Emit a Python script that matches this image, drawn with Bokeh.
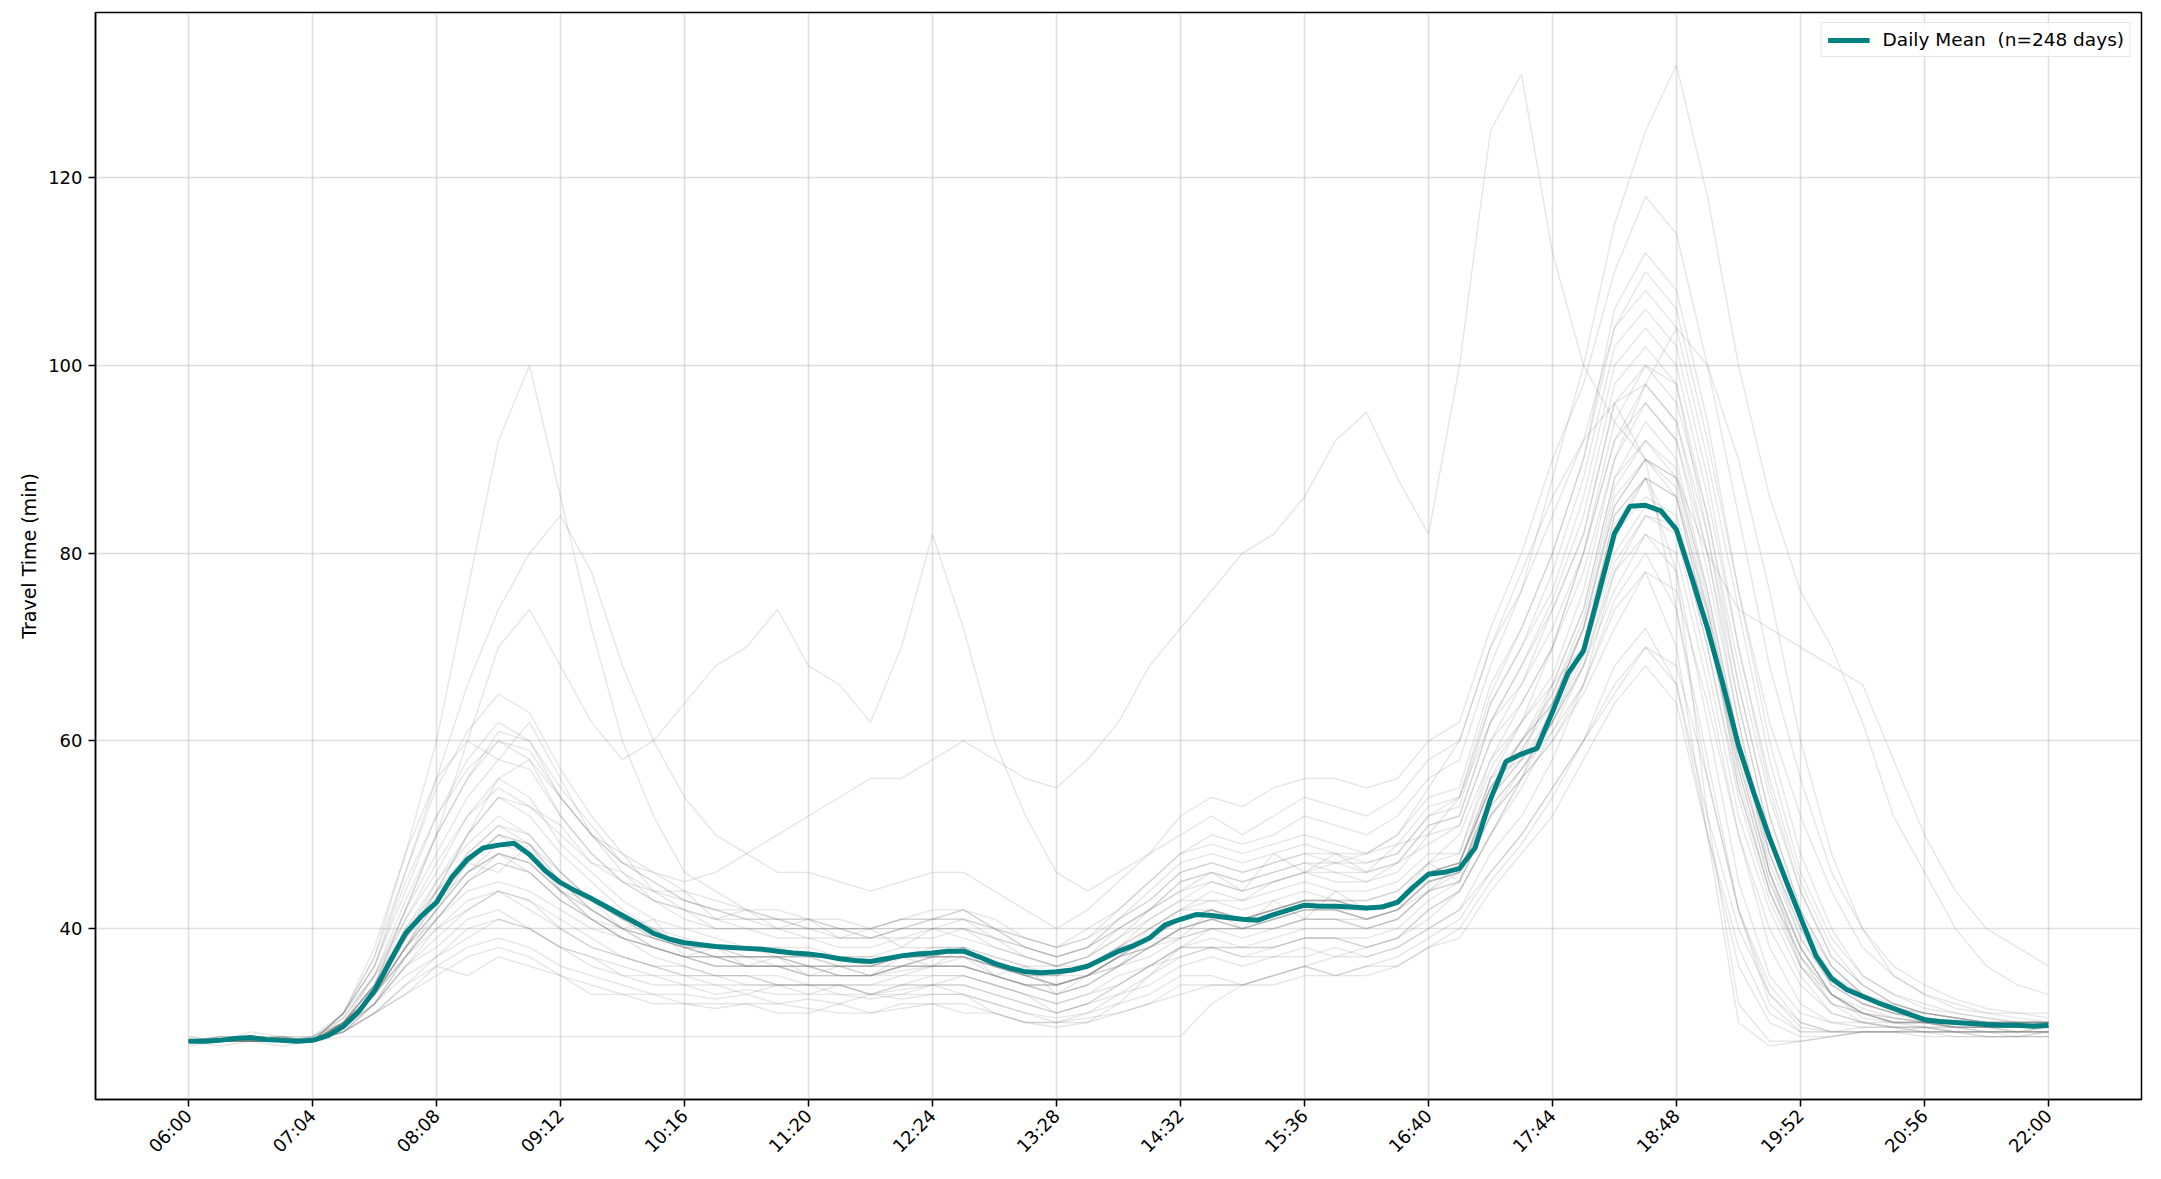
import math
from bokeh.plotting import figure
from bokeh.models import Range1d, FixedTicker
from bokeh.embed import file_html
from bokeh.resources import INLINE

# ---------------- data ----------------
tick_minutes = [0, 64, 128, 192, 256, 320, 384, 448, 512, 576, 640, 704, 768, 832, 896, 960]
tick_labels = ["06:00", "07:04", "08:08", "09:12", "10:16", "11:20", "12:24", "13:28",
               "14:32", "15:36", "16:40", "17:44", "18:48", "19:52", "20:56", "22:00"]
y_ticks = [40, 60, 80, 100, 120]

# mean travel time, sampled every 8 minutes from 06:00
mean_minutes = list(range(0, 961, 8))
mean_travel = [
    28.0, 28.0, 28.1, 28.3, 28.4, 28.2, 28.1, 28.0,
    28.1, 28.6, 29.6, 31.2, 33.4, 36.5, 39.5, 41.3,
    42.8, 45.5, 47.4, 48.6, 48.9, 49.1, 47.9, 46.2,
    44.9, 44.0, 43.2, 42.3, 41.4, 40.5, 39.5, 38.9,
    38.5, 38.3, 38.1, 38.0, 37.9, 37.8, 37.6, 37.4,
    37.3, 37.1, 36.8, 36.6, 36.5, 36.8, 37.1, 37.3,
    37.4, 37.6, 37.6, 37.0, 36.3, 35.8, 35.4, 35.3,
    35.4, 35.6, 36.0, 36.8, 37.6, 38.2, 39.0, 40.4,
    41.0, 41.5, 41.4, 41.2, 41.0, 40.9, 41.5, 42.0,
    42.5, 42.4, 42.4, 42.3, 42.2, 42.3, 42.8, 44.4,
    45.8, 46.0, 46.4, 48.6, 53.8, 57.8, 58.6, 59.2,
    63.1, 67.2, 69.6, 75.8, 82.1, 85.0, 85.1, 84.5,
    82.5, 77.3, 72.0, 66.0, 59.5, 54.4, 49.7, 45.4,
    41.2, 37.1, 34.7, 33.5, 32.8, 32.1, 31.5, 30.9,
    30.3, 30.1, 30.0, 29.9, 29.8, 29.7, 29.7, 29.6,
    29.7,
]

# individual days, sampled every 16 minutes from 06:00
day_minutes = list(range(0, 961, 16))
day_01 = [28, 28, 28.5, 28, 28, 29, 31, 34, 36, 38, 39, 38, 36, 35, 34, 33, 33, 32.5, 33, 32, 32.5, 32, 33, 32.5, 33, 33, 32, 31, 30.5, 31, 32, 33, 35, 35, 34, 35, 36, 35, 36, 37, 39, 41, 46, 50, 55, 60, 68, 72, 66, 50, 38, 31, 29, 29, 29.5, 29.5, 29, 29, 29, 28.5, 29]
day_02 = [28.5, 28, 28, 28.5, 28, 29, 32, 35, 37, 40, 41, 40, 38, 36, 35, 34, 34, 33, 33.5, 33, 33, 34, 33, 33.5, 34, 34, 33, 32, 31, 32, 33, 34, 36, 37, 36, 37, 37, 38, 37, 38, 40, 42, 48, 52, 58, 66, 74, 78, 70, 50, 30, 27.5, 28, 28.5, 29, 29, 29.5, 29, 29, 29, 29]
day_03 = [28, 28, 28, 28, 28, 29.5, 32, 36, 38, 41, 42, 40, 38, 37, 35, 35, 34, 34, 33, 34, 33, 33, 32.5, 33, 34, 33, 32, 31, 30, 31, 33, 35, 37, 38, 37, 37, 38, 37, 38, 39, 41, 44, 50, 55, 61, 66, 75, 80, 74, 58, 42, 33, 30, 29, 29, 29, 29, 28.5, 28.5, 28.5, 29]
day_04 = [28, 28, 28, 28, 28, 29, 31, 33, 35, 37, 38, 37, 35, 34, 33, 33, 32, 32, 32, 32, 31.5, 31, 31, 32, 32, 32, 31, 30, 30, 30.5, 31, 32, 34, 34, 34, 34, 35, 35, 35, 36, 38, 40, 45, 49, 54, 60, 65, 70, 68, 56, 42, 32, 29, 29, 29, 29, 29, 29, 28.5, 28.5, 28.5]
day_05 = [28, 28, 28.5, 28, 28, 30, 33, 37, 40, 43, 44, 43, 40, 38, 37, 36, 35, 35, 35, 34, 34, 34, 34, 35, 35, 35, 34, 33, 32, 33, 35, 36, 38, 38, 38, 38, 39, 39, 38, 39, 42, 44, 50, 56, 62, 68, 76, 82, 78, 62, 45, 35, 31, 30, 30, 29.5, 29.5, 29, 29, 29, 29]
day_06 = [28, 28, 28, 28, 28.5, 29, 32, 36, 40, 42, 44, 42, 40, 38, 37, 36, 36, 35, 35, 35, 34, 34, 34, 34, 35, 35, 34, 33, 32, 33, 34, 36, 37, 38, 37, 38, 39, 39, 39, 40, 43, 45, 52, 56, 60, 65, 72, 78, 76, 64, 50, 38, 32, 30, 29.5, 29.5, 29, 29, 29, 29, 29]
day_07 = [28, 28, 28.5, 28, 28, 30, 33, 38, 42, 46, 48, 47, 44, 42, 40, 38, 37, 37, 36, 36, 36, 35, 35, 36, 36, 36, 35, 34, 34, 35, 37, 38, 40, 40, 40, 40, 41, 41, 41, 42, 45, 46, 54, 58, 62, 70, 82, 86, 84, 72, 58, 46, 38, 33, 31, 30, 30, 29.5, 29.5, 29.5, 29.5]
day_08 = [28, 28.5, 28.5, 28, 28, 30, 34, 40, 45, 49, 52, 50, 46, 43, 41, 40, 38, 38, 38, 37, 37, 37, 36, 37, 37, 38, 36, 35, 35, 36, 38, 40, 42, 42, 41, 42, 43, 43, 42, 43, 46, 47, 55, 60, 64, 72, 86, 90, 88, 76, 60, 48, 40, 34, 32, 31, 30, 30, 30, 29.5, 30]
day_09 = [28, 28, 28, 28, 28, 29, 32, 37, 41, 45, 47, 46, 43, 41, 39, 38, 37, 36, 36, 36, 35, 35, 35, 35.5, 36, 36, 35, 34, 33, 34, 36, 37, 39, 40, 39, 40, 41, 41, 40, 41, 44, 45, 52, 56, 60, 66, 78, 84, 82, 68, 52, 42, 35, 31, 30, 30, 29.5, 29.5, 29, 29, 29]
day_10 = [28, 28, 28.5, 28.5, 28, 30, 33, 39, 44, 48, 51, 49, 45, 43, 41, 39, 38, 37, 37, 37, 36, 36, 36, 37, 37, 37, 36, 35, 34, 35, 37, 39, 41, 42, 41, 42, 43, 42, 42, 43, 46, 47, 56, 60, 64, 70, 84, 88, 86, 72, 56, 44, 37, 33, 31, 30.5, 30, 30, 29.5, 29.5, 29.5]
day_11 = [28, 28, 28, 28, 28, 30, 34, 41, 46, 52, 56, 54, 49, 46, 43, 41, 40, 39, 38, 38, 38, 37, 37, 38, 38, 38, 37, 36, 36, 37, 39, 41, 43, 43, 43, 44, 45, 44, 44, 45, 48, 48, 58, 62, 66, 74, 88, 94, 90, 76, 60, 47, 39, 34, 32, 31, 30.5, 30, 30, 30, 30]
day_12 = [28, 28, 28, 28.5, 28, 29.5, 33, 38, 42, 46, 49, 48, 45, 42, 40, 39, 38, 37, 37, 37, 36, 36, 36, 36, 37, 37, 36, 35, 35, 35, 37, 38, 40, 41, 40, 41, 42, 42, 41, 42, 45, 46, 53, 57, 62, 69, 80, 85, 83, 70, 55, 44, 37, 32, 31, 30, 30, 29.5, 29.5, 29.5, 29.5]
day_13 = [28, 28, 28, 28, 28, 30, 34, 40, 44, 50, 54, 52, 48, 45, 42, 40, 39, 38, 38, 38, 37, 37, 37, 37, 38, 38, 37, 36, 35, 36, 38, 40, 42, 43, 42, 43, 44, 43, 43, 44, 47, 48, 57, 62, 67, 76, 90, 96, 92, 78, 62, 48, 39, 34, 32, 31, 30.5, 30, 30, 30, 30]
day_14 = [28, 28, 28.5, 28, 28, 30, 33, 38, 43, 47, 50, 49, 45, 42, 40, 39, 38, 37, 37, 36, 36, 36, 35, 36, 37, 37, 36, 35, 34, 35, 36, 38, 40, 41, 40, 41, 42, 42, 41, 42, 44, 46, 54, 58, 63, 70, 83, 88, 86, 72, 57, 45, 37, 33, 31, 30, 30, 29.5, 29.5, 29.5, 29.5]
day_15 = [28, 28, 28, 28, 28, 30, 34, 39, 43, 47, 50, 49, 46, 43, 41, 40, 38, 38, 37, 37, 37, 36, 36, 37, 37, 37, 36, 35, 35, 36, 38, 39, 41, 42, 41, 42, 43, 43, 42, 43, 46, 47, 55, 59, 64, 72, 85, 90, 87, 73, 57, 45, 38, 33, 31, 30.5, 30, 30, 29.5, 29.5, 29.5]
day_16 = [28, 28.5, 28.5, 28, 28, 30, 33, 37, 41, 45, 48, 47, 44, 41, 39, 38, 37, 36, 36, 36, 35, 35, 35, 36, 36, 36, 35, 34, 33, 34, 36, 38, 39, 40, 40, 40, 41, 41, 40, 41, 44, 45, 52, 57, 61, 68, 79, 84, 83, 70, 54, 43, 36, 32, 31, 30, 30, 29.5, 29.5, 29, 29.5]
day_17 = [28, 28, 28, 28, 28, 29.5, 32, 37, 42, 47, 50, 48, 44, 41, 39, 38, 37, 37, 36, 36, 36, 35, 35, 36, 36, 36, 35, 34, 34, 35, 37, 38, 40, 41, 40, 41, 42, 42, 41, 42, 45, 46, 54, 59, 65, 73, 87, 92, 88, 74, 58, 46, 38, 33, 31, 30, 30, 29.5, 29.5, 29.5, 29.5]
day_18 = [28, 28, 28, 28, 28, 30, 33, 38, 43, 48, 51, 50, 46, 43, 41, 39, 38, 38, 37, 37, 37, 36, 36, 37, 37, 38, 36, 35, 34, 35, 37, 39, 41, 42, 41, 42, 43, 43, 42, 43, 46, 47, 55, 60, 66, 74, 88, 92, 89, 75, 59, 46, 38, 33, 31.5, 30.5, 30, 30, 29.5, 29.5, 29.5]
day_19 = [28, 28, 28.5, 28.5, 28, 31, 36, 44, 52, 58, 62, 60, 54, 50, 46, 44, 42, 41, 41, 40, 40, 40, 39, 40, 41, 41, 40, 38, 37, 38, 41, 43, 46, 47, 46, 47, 48, 47, 47, 48, 52, 53, 64, 70, 76, 86, 100, 104, 100, 86, 70, 56, 45, 38, 34, 32, 31, 30.5, 30, 30, 30]
day_20 = [28, 28, 28, 28, 28, 31, 37, 46, 55, 61, 65, 63, 57, 52, 48, 46, 44, 43, 42, 42, 41, 41, 40, 41, 42, 42, 41, 39, 38, 39, 42, 45, 48, 49, 48, 49, 50, 49, 48, 50, 54, 55, 66, 72, 80, 90, 104, 108, 104, 90, 74, 58, 46, 39, 35, 33, 31.5, 31, 30.5, 30, 30]
day_21 = [28, 28, 28.5, 28, 28, 31, 35, 43, 50, 56, 60, 58, 52, 48, 45, 43, 41, 40, 40, 40, 39, 39, 39, 39, 40, 40, 39, 37, 36, 37, 40, 42, 45, 46, 45, 46, 47, 46, 46, 47, 51, 52, 62, 68, 74, 82, 96, 100, 98, 84, 66, 52, 42, 36, 33, 32, 31, 30.5, 30, 30, 30]
day_22 = [28, 28, 28, 28, 28.5, 30, 34, 42, 48, 54, 58, 57, 52, 48, 45, 43, 42, 41, 40, 40, 40, 39, 39, 40, 40, 41, 39, 38, 37, 38, 40, 42, 45, 46, 45, 46, 47, 47, 46, 47, 51, 52, 62, 68, 75, 84, 98, 102, 98, 82, 64, 50, 41, 35, 33, 31.5, 31, 30.5, 30, 30, 30]
day_23 = [28, 28, 28, 28, 28, 31, 36, 45, 52, 57, 60, 59, 54, 50, 47, 45, 43, 42, 41, 41, 41, 40, 40, 41, 41, 42, 40, 39, 38, 39, 41, 44, 47, 48, 47, 48, 49, 48, 48, 49, 53, 54, 65, 72, 80, 90, 106, 112, 108, 94, 76, 60, 48, 40, 35, 33, 32, 31, 30.5, 30, 30]
day_24 = [28, 28.5, 28.5, 28, 28, 30.5, 35, 42, 50, 56, 61, 60, 55, 51, 47, 45, 43, 42, 41, 41, 40, 40, 40, 40, 41, 41, 40, 38, 37, 38, 41, 43, 46, 47, 46, 47, 48, 48, 47, 48, 52, 54, 64, 70, 78, 88, 102, 106, 102, 88, 70, 55, 44, 37, 34, 32, 31, 30.5, 30, 30, 30]
day_25 = [28, 28, 28, 28, 28.5, 31, 37, 48, 60, 76, 92, 100, 86, 72, 60, 52, 46, 44, 42, 41, 40, 40, 39, 40, 40, 40, 39, 38, 37, 38, 40, 42, 44, 45, 44, 45, 46, 46, 45, 46, 50, 51, 60, 66, 72, 80, 92, 96, 92, 80, 64, 50, 41, 36, 33, 31.5, 31, 30.5, 30, 30, 30]
day_26 = [28, 28, 28, 28, 28, 30, 34, 42, 50, 60, 70, 74, 68, 62, 58, 60, 64, 68, 70, 74, 68, 66, 62, 70, 82, 72, 60, 52, 46, 44, 46, 48, 50, 52, 50, 52, 54, 53, 52, 54, 58, 60, 70, 76, 84, 92, 104, 110, 106, 92, 76, 62, 52, 44, 38, 35, 33, 32, 31, 31, 31]
day_27 = [28, 28, 28, 28, 28, 30, 33, 38, 44, 50, 56, 58, 54, 50, 47, 46, 45, 46, 48, 50, 52, 54, 56, 56, 58, 60, 58, 56, 55, 58, 62, 68, 72, 76, 80, 82, 86, 92, 95, 88, 82, 100, 125, 131, 112, 100, 94, 90, 86, 74, 60, 48, 40, 35, 32, 31, 30.5, 30, 30, 30, 30]
day_28 = [28, 28, 28, 28, 28, 30, 33, 39, 45, 50, 54, 53, 50, 47, 45, 44, 43, 42, 42, 41, 41, 40, 40, 41, 41, 42, 40, 39, 38, 40, 42, 45, 48, 50, 49, 50, 52, 51, 50, 52, 56, 58, 68, 76, 88, 100, 115, 125, 132, 118, 100, 86, 76, 70, 62, 52, 46, 40, 36, 34, 33]
day_29 = [28, 28, 28, 28, 28, 28.5, 28.5, 28.5, 28.5, 28.5, 28.5, 28.5, 28.5, 28.5, 28.5, 28.5, 28.5, 28.5, 28.5, 28.5, 28.5, 28.5, 28.5, 28.5, 28.5, 28.5, 28.5, 28.5, 28.5, 28.5, 28.5, 28.5, 28.5, 32, 34, 35, 36, 37, 37, 38, 40, 42, 46, 50, 55, 60, 66, 70, 66, 52, 40, 33, 29.5, 29, 29, 29, 29, 29, 28.5, 28.5, 28.5]
day_30 = [28, 28, 28.5, 28, 28, 31, 36, 46, 56, 66, 74, 80, 84, 78, 68, 60, 54, 50, 48, 46, 46, 45, 44, 45, 46, 46, 44, 42, 40, 42, 45, 48, 52, 54, 53, 55, 56, 56, 55, 56, 60, 62, 72, 80, 90, 98, 110, 118, 114, 100, 84, 68, 56, 46, 40, 36, 34, 32.5, 31.5, 31, 30.5]
day_31 = [28, 28, 28, 28, 28, 29.5, 32, 36, 39, 42, 44, 43, 41, 39, 37, 36, 35, 35, 34, 34, 34, 34, 33, 34, 34, 35, 34, 33, 31, 32, 34, 36, 38, 38, 38, 38, 39, 39, 38, 39, 42, 44, 50, 56, 64, 72, 82, 88, 78, 52, 32, 28, 28, 28.5, 29, 29, 29, 29, 29, 29, 29]
day_32 = [28, 28, 28, 28, 28, 30, 33, 38, 42, 46, 48, 47, 44, 42, 40, 39, 38, 37, 37, 37, 36, 36, 36, 36, 37, 37, 36, 35, 34, 35, 37, 39, 41, 42, 41, 42, 43, 43, 42, 43, 46, 47, 55, 60, 65, 72, 85, 90, 88, 80, 74, 72, 70, 68, 66, 58, 50, 44, 40, 38, 36]
day_33 = [28.5, 28, 29, 28.5, 28.5, 30, 35, 39, 44, 47, 46, 49, 44, 43, 40, 41, 37, 38, 36, 37, 35, 36, 35, 37, 36, 38, 35, 36, 33, 35, 36, 39, 39, 42, 40, 43, 41, 44, 42, 43, 47, 45, 56, 58, 66, 70, 84, 88, 82, 74, 55, 44, 36, 33, 30.5, 30, 30, 29.5, 29.5, 29, 29.5]
day_34 = [28, 27.5, 28, 28, 28, 31, 38, 48, 56, 60, 58, 62, 56, 50, 48, 44, 44, 41, 42, 40, 41, 39, 40, 38, 40, 39, 38, 37, 36, 37, 39, 42, 44, 46, 44, 48, 46, 48, 46, 49, 50, 54, 62, 66, 74, 82, 96, 98, 94, 82, 66, 52, 42, 36, 33, 31, 30.5, 30, 30, 29.5, 29.5]
day_35 = [27.5, 28, 28, 27.5, 28, 29, 31, 33, 36, 35, 37, 36, 35, 33, 33, 32, 32, 31.5, 32, 31, 31, 32, 31, 31.5, 32, 31, 31, 30, 30, 30, 31, 32, 33, 34, 34, 35, 36, 35, 36, 36, 38, 39, 44, 48, 52, 58, 64, 68, 64, 50, 36, 30, 28.5, 28.5, 29, 29, 28.5, 28.5, 28.5, 28.5, 28.5]
day_36 = [28, 28, 28, 28.5, 28, 29.5, 33, 38, 41, 44, 45, 44, 42, 40, 39, 38, 37, 36, 36, 36, 35, 35, 35, 35, 36, 36, 35, 34, 33, 34, 36, 38, 40, 41, 41, 42, 43, 43, 43, 44, 47, 50, 58, 64, 70, 78, 90, 98, 104, 100, 90, 76, 60, 48, 40, 35, 33, 31.5, 31, 30.5, 30]
day_37 = [28, 28, 28, 28, 28, 30, 34, 39, 43, 46, 48, 46, 43, 41, 40, 38, 37, 37, 36, 36, 36, 35, 35, 36, 36, 37, 35, 34, 34, 35, 37, 40, 42, 44, 43, 45, 46, 47, 48, 50, 55, 60, 70, 78, 86, 92, 96, 90, 74, 56, 42, 34, 30, 29, 29, 29, 29, 29, 29, 29, 29]
day_38 = [28, 28.5, 28, 28.5, 28.5, 30.5, 35, 41, 47, 52, 55, 53, 51, 47, 46, 43, 42, 40, 40, 39, 39, 38, 38, 39, 39, 40, 38, 37, 36, 36, 38, 41, 43, 45, 44, 45, 46, 45, 45, 47, 49, 51, 60, 64, 70, 80, 94, 100, 96, 84, 68, 54, 44, 37, 34, 32, 31, 30.5, 30, 30, 30]
day_39 = [28, 28, 28, 28, 28, 29, 31, 34, 37, 39, 41, 40, 38, 37, 36, 35, 35, 34, 34, 34, 34, 33, 33, 34, 34, 34, 33, 32, 31, 32, 34, 36, 38, 39, 38, 39, 40, 40, 40, 41, 44, 47, 56, 62, 70, 80, 92, 98, 94, 80, 62, 46, 36, 32, 30, 29.5, 29.5, 29, 29, 29, 29]
day_40 = [28, 28, 28, 28, 28, 30, 33, 37, 41, 45, 47, 46, 43, 41, 39, 37, 36, 35, 35, 34, 34, 34, 33, 33, 33, 33, 31, 30, 29.5, 30, 32, 35, 38, 40, 40, 41, 42, 42, 41, 42, 45, 46, 53, 57, 62, 68, 78, 82, 80, 66, 50, 40, 34, 31, 30, 29.5, 29.5, 29.5, 29, 29, 29]

days = [day_01, day_02, day_03, day_04, day_05, day_06, day_07, day_08,
        day_09, day_10, day_11, day_12, day_13, day_14, day_15, day_16,
        day_17, day_18, day_19, day_20, day_21, day_22, day_23, day_24,
        day_25, day_26, day_27, day_28, day_29, day_30, day_31, day_32,
        day_33, day_34, day_35, day_36, day_37, day_38, day_39, day_40]

legend_text = "Daily Mean  (n=248 days)"
y_label = "Travel Time (min)"

# ---------------- figure ----------------
FONT = "DejaVu Sans"
p = figure(width=2152, height=1168,
           x_range=Range1d(-48, 1008), y_range=Range1d(21.8, 137.6),
           output_backend="svg", toolbar_location=None,
           min_border_left=95, min_border_right=11,
           min_border_top=12, min_border_bottom=69)
p.background_fill_color = "white"
p.border_fill_color = "white"
p.outline_line_color = "black"
p.outline_line_width = 1.5

xs = [day_minutes[:len(d)] for d in days]
p.multi_line(xs=xs, ys=days, line_color="gray", line_alpha=0.2, line_width=1.4)

p.line(mean_minutes, mean_travel, line_color="#008080", line_width=5,
       legend_label=legend_text)

# axes
p.xaxis.ticker = FixedTicker(ticks=tick_minutes)
p.xaxis.major_label_overrides = {m: l for m, l in zip(tick_minutes, tick_labels)}
p.xaxis.major_label_orientation = math.pi / 4
p.yaxis.ticker = FixedTicker(ticks=y_ticks)
p.yaxis.axis_label = y_label

for ax in (p.xaxis, p.yaxis):
    ax.major_label_text_font = FONT
    ax.major_label_text_font_size = "18px"
    ax.major_label_text_color = "black"
    ax.axis_label_text_font = FONT
    ax.axis_label_text_font_size = "19px"
    ax.axis_label_text_font_style = "normal"
    ax.axis_label_text_color = "black"
    ax.minor_tick_line_color = None
    ax.major_tick_in = 0
    ax.major_tick_out = 7
    ax.major_tick_line_width = 1.5
    ax.major_tick_line_color = "black"
    ax.axis_line_width = 1.5
    ax.axis_line_color = "black"
    ax.major_label_standoff = 6
p.yaxis.axis_label_standoff = 5

for g in (p.xgrid, p.ygrid):
    g.grid_line_color = "#b0b0b0"
    g.grid_line_alpha = 0.4
    g.grid_line_width = 1.5

# legend
lg = p.legend[0]
lg.location = "top_right"
lg.margin = 10
lg.padding = 6
lg.spacing = 0
lg.label_text_font = FONT
lg.label_text_font_size = "18.5px"
lg.label_text_color = "black"
lg.glyph_width = 42
lg.glyph_height = 20
lg.label_height = 20
lg.label_standoff = 13
lg.border_line_color = "#cccccc"
lg.border_line_width = 1.5
lg.background_fill_alpha = 0.8

open("out.html", "w").write(file_html(p, INLINE))
